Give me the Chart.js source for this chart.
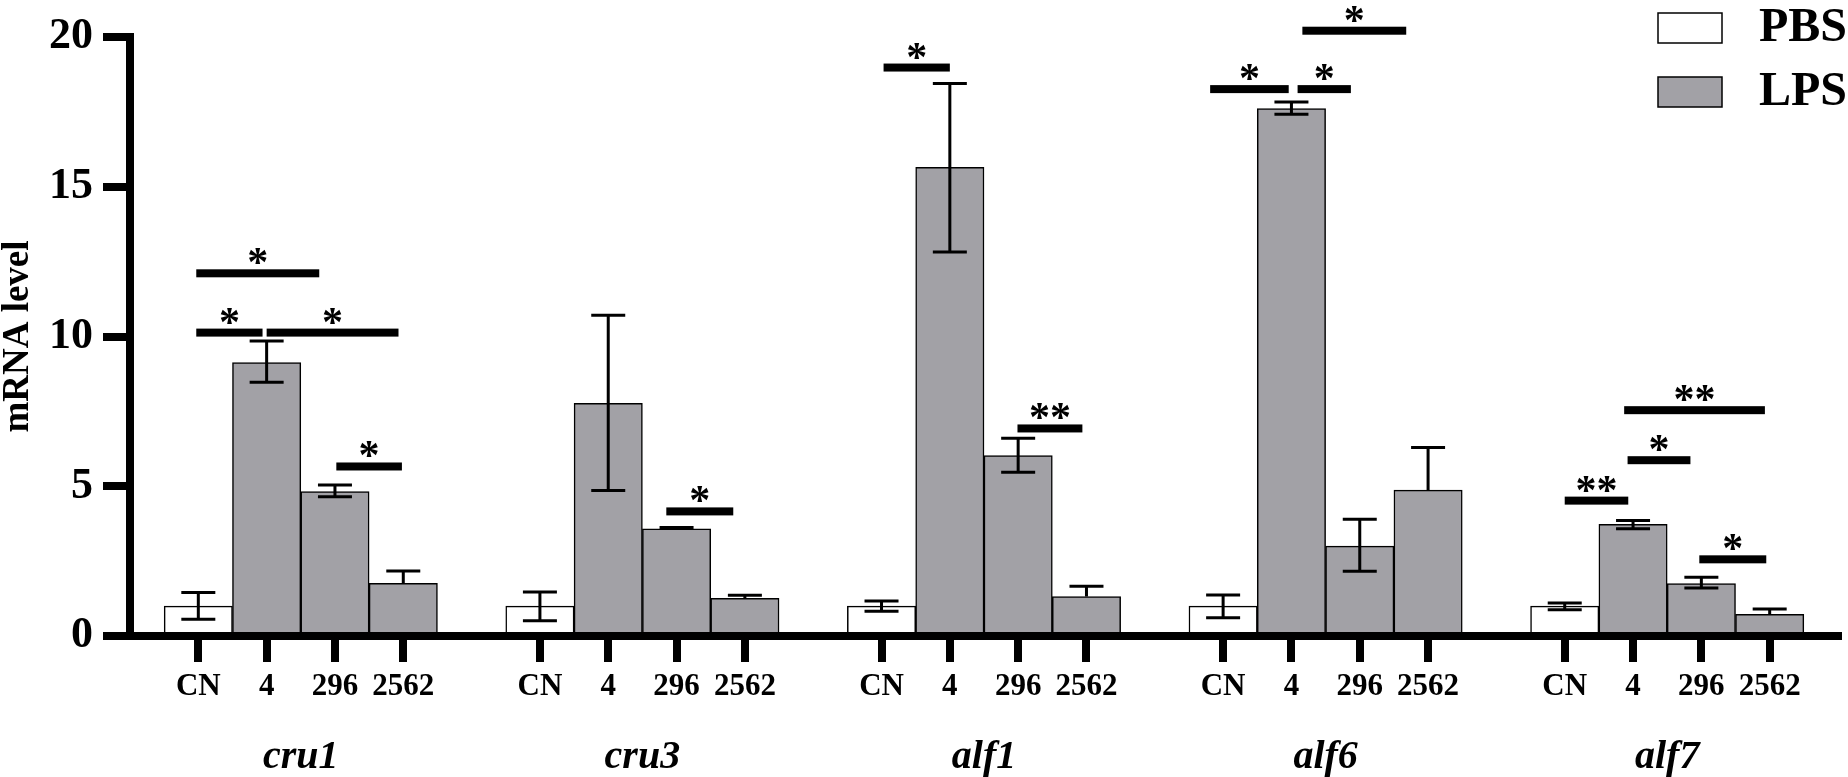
<!DOCTYPE html>
<html>
<head>
<meta charset="utf-8">
<script src="https://cdn.jsdelivr.net/npm/chart.js@4"></script>
<style>
  html, body { margin: 0; padding: 0; background: #fff; }
  #wrap { width: 1848px; height: 777px; position: relative; }
</style>
</head>
<body>
<div id="wrap"><canvas id="chart"></canvas></div>
<script>
const genes = ['cru1', 'cru3', 'alf1', 'alf6', 'alf7'];
const doses = ['CN', '4', '296', '2562'];

// mean mRNA level per gene, in dose order
const meanLevel = [
  [1.00, 9.13, 4.82, 1.76],
  [1.00, 7.77, 3.58, 1.26],
  [1.00, 15.65, 6.02, 1.32],
  [1.00, 17.61, 3.00, 4.87],
  [1.00, 3.73, 1.75, 0.72]
];
// whisker ends (null = no lower whisker shown)
const errTop = [
  [1.45, 9.85, 5.04, 2.17],
  [1.47, 10.71, 3.62, 1.36],
  [1.17, 18.45, 6.60, 1.66],
  [1.37, 17.83, 3.90, 6.29],
  [1.10, 3.86, 1.96, 0.90]
];
const errBottom = [
  [0.56, 8.47, 4.65, null],
  [0.51, 4.86, null, null],
  [0.83, 12.82, 5.47, null],
  [0.61, 17.42, 2.16, null],
  [0.88, 3.58, 1.60, null]
];
// significance bars: gene, from, to (bar position inside the gene), level, mark
const sigBars = [
  [0, -0.03, 1.77, 12.11, '*'],
  [0, -0.03, 0.94, 10.13, '*'],
  [0, 1.00, 2.93, 10.13, '*'],
  [0, 2.02, 2.98, 5.66, '*'],
  [1, 1.85, 2.83, 4.16, '*'],
  [2, 0.03, 1.00, 18.98, '*'],
  [2, 1.99, 2.94, 6.93, '**'],
  [3, -0.19, 0.96, 18.26, '*'],
  [3, 1.09, 1.87, 18.26, '*'],
  [3, 1.16, 2.68, 20.21, '*'],
  [4, 0.00, 0.93, 4.52, '**'],
  [4, 0.92, 1.84, 5.87, '*'],
  [4, 0.87, 2.93, 7.54, '**'],
  [4, 1.97, 2.95, 2.56, '*']
];
const yTicks = [0, 5, 10, 15, 20];

const SERIF = "'Liberation Serif', 'Times New Roman', serif";
const GREY = '#a2a1a6';

// x labels: empty slot at both ends and between genes
const labels = [''];
const pbsData = [null];
const lpsData = [null];
const slotTop = [null];
const slotBottom = [null];
genes.forEach((g, gi) => {
  doses.forEach((d, di) => {
    labels.push(d);
    pbsData.push(di === 0 ? meanLevel[gi][di] : null);
    lpsData.push(di === 0 ? null : meanLevel[gi][di]);
    slotTop.push(errTop[gi][di]);
    slotBottom.push(errBottom[gi][di]);
  });
  labels.push('');
  pbsData.push(null);
  lpsData.push(null);
  slotTop.push(null);
  slotBottom.push(null);
});

function slotIndex(gene, pos) {
  return 1 + gene * 5 + pos;
}

const errorBars = {
  id: 'errorBars',
  afterDatasetsDraw(chart) {
    const ctx = chart.ctx;
    const y = chart.scales.y;
    const x = chart.scales.x;
    ctx.save();
    ctx.strokeStyle = '#000';
    ctx.lineWidth = 3;
    for (let i = 0; i < labels.length; i++) {
      if (slotTop[i] == null) continue;
      const value = pbsData[i] != null ? pbsData[i] : lpsData[i];
      const px = x.getPixelForValue(i);
      const top = y.getPixelForValue(slotTop[i]);
      const bottom = slotBottom[i] != null ? y.getPixelForValue(slotBottom[i]) : y.getPixelForValue(value);
      const half = 17;
      ctx.beginPath();
      ctx.moveTo(px, top);
      ctx.lineTo(px, bottom);
      ctx.moveTo(px - half, top);
      ctx.lineTo(px + half, top);
      if (slotBottom[i] != null) {
        ctx.moveTo(px - half, bottom);
        ctx.lineTo(px + half, bottom);
      }
      ctx.stroke();
    }
    ctx.restore();
  }
};

const sigMarks = {
  id: 'sigMarks',
  afterDraw(chart) {
    const ctx = chart.ctx;
    const y = chart.scales.y;
    const x = chart.scales.x;
    ctx.save();
    ctx.fillStyle = '#000';
    ctx.font = 'bold 42px ' + SERIF;
    ctx.textAlign = 'center';
    ctx.textBaseline = 'alphabetic';
    sigBars.forEach(([g, from, to, level, mark]) => {
      const x1 = x.getPixelForValue(slotIndex(g, from));
      const x2 = x.getPixelForValue(slotIndex(g, to));
      const py = y.getPixelForValue(level);
      ctx.fillRect(x1, py - 4, x2 - x1, 8);
      ctx.fillText(mark, (x1 + x2) / 2, py + 3);
    });
    ctx.restore();
  }
};

const boxLegend = {
  id: 'boxLegend',
  afterDraw(chart) {
    const ctx = chart.ctx;
    ctx.save();
    ctx.font = 'bold 48px ' + SERIF;
    ctx.textBaseline = 'middle';
    ctx.textAlign = 'left';
    chart.data.datasets.forEach((ds, i) => {
      const top = 13 + i * 64;
      ctx.fillStyle = ds.backgroundColor;
      ctx.fillRect(1658, top, 64, 30);
      ctx.strokeStyle = '#000';
      ctx.lineWidth = 1.5;
      ctx.strokeRect(1658, top, 64, 30);
      ctx.fillStyle = '#000';
      ctx.fillText(ds.label, 1759, top + 16);
    });
    ctx.restore();
  }
};

new Chart(document.getElementById('chart'), {
  type: 'bar',
  data: {
    labels: labels,
    datasets: [
      {
        label: 'PBS',
        data: pbsData,
        backgroundColor: '#ffffff',
        borderColor: '#000',
        borderWidth: 1.5,
        grouped: false,
        categoryPercentage: 1,
        barPercentage: 1
      },
      {
        label: 'LPS',
        data: lpsData,
        backgroundColor: GREY,
        borderColor: '#000',
        borderWidth: 1.5,
        grouped: false,
        categoryPercentage: 1,
        barPercentage: 1
      }
    ]
  },
  options: {
    responsive: true,
    maintainAspectRatio: false,
    animation: false,
    layout: { padding: { top: 37, right: 10, left: 0, bottom: 0 } },
    plugins: {
      legend: { display: false },
      tooltip: { enabled: false }
    },
    scales: {
      x: {
        type: 'category',
        offset: false,
        border: { width: 8, color: '#000' },
        grid: {
          drawOnChartArea: false,
          offset: false,
          tickLength: 26,
          lineWidth: 8,
          tickWidth: 8,
          tickColor: c => (labels[c.index] ? '#000' : 'rgba(0,0,0,0)')
        },
        ticks: {
          autoSkip: false,
          maxRotation: 0,
          color: '#000',
          padding: 6,
          font: { family: SERIF, size: 31, weight: 'bold' }
        },
        afterFit: s => { s.height = 70; }
      },
      x2: {
        type: 'category',
        labels: genes,
        position: 'bottom',
        offset: true,
        grid: { display: false },
        border: { display: false },
        ticks: {
          color: '#000',
          padding: 20,
          font: { family: SERIF, size: 40, weight: 'bold', style: 'italic' }
        },
        afterFit: s => { s.height = 71; }
      },
      y: {
        min: 0,
        max: 20,
        border: { width: 8, color: '#000' },
        grid: {
          drawOnChartArea: false,
          tickLength: 27,
          lineWidth: 8,
          tickWidth: 8,
          color: '#000'
        },
        afterBuildTicks: s => { s.ticks = yTicks.map(v => ({ value: v })); },
        ticks: {
          color: '#000',
          padding: 10,
          font: { family: SERIF, size: 44, weight: 'bold' }
        },
        title: {
          display: true,
          text: 'mRNA level',
          color: '#000',
          padding: 0,
          font: { family: SERIF, size: 37, weight: 'bold', lineHeight: 1 }
        },
        afterFit: s => { s.width = 130; }
      }
    }
  },
  plugins: [errorBars, sigMarks, boxLegend]
});
</script>
</body>
</html>
